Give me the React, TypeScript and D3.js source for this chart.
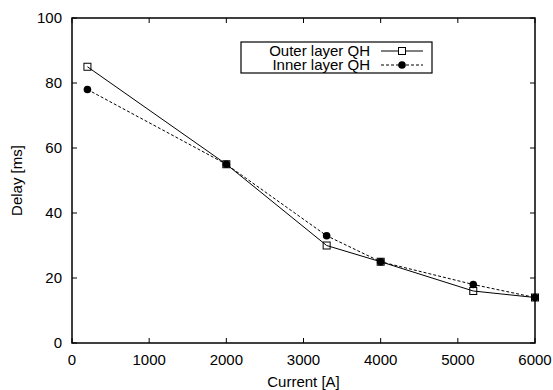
import React, { useEffect, useRef } from "react";
import * as d3 from "d3";

const currents = [200, 2000, 3300, 4000, 5200, 6000];
const outerDelay = [85, 55, 30, 25, 16, 14];
const innerDelay = [78, 55, 33, 25, 18, 14];
const xTicks = [0, 1000, 2000, 3000, 4000, 5000, 6000];
const yTicks = [0, 20, 40, 60, 80, 100];

function App() {
  const svgRef = useRef<SVGSVGElement>(null);
  const width = 553;
  const height = 390;

  useEffect(() => {
    const svg = d3.select(svgRef.current);
    svg.selectAll("*").remove();

    const margin = { top: 18, right: 18, bottom: 47, left: 72 };
    const font = "'Liberation Sans', Arial, sans-serif";

    const x = d3
      .scaleLinear()
      .domain([0, 6000])
      .range([margin.left, width - margin.right]);
    const y = d3
      .scaleLinear()
      .domain([0, 100])
      .range([height - margin.bottom, margin.top]);

    const x0 = x(0), x1 = x(6000), y0 = y(0), y1 = y(100);

    // tick marks on all four sides, pointing in
    const ticks = svg.append("g").attr("stroke", "#000").attr("stroke-width", 1);
    xTicks.forEach((t) => {
      ticks.append("line").attr("x1", x(t)).attr("x2", x(t)).attr("y1", y0).attr("y2", y0 - 5);
      ticks.append("line").attr("x1", x(t)).attr("x2", x(t)).attr("y1", y1).attr("y2", y1 + 5);
    });
    yTicks.forEach((t) => {
      ticks.append("line").attr("x1", x0).attr("x2", x0 + 5).attr("y1", y(t)).attr("y2", y(t));
      ticks.append("line").attr("x1", x1).attr("x2", x1 - 5).attr("y1", y(t)).attr("y2", y(t));
    });

    // frame
    svg
      .append("rect")
      .attr("x", x0)
      .attr("y", y1)
      .attr("width", x1 - x0)
      .attr("height", y0 - y1)
      .attr("fill", "none")
      .attr("stroke", "#000")
      .attr("stroke-width", 1.5);

    // tick labels
    svg
      .append("g")
      .selectAll("text")
      .data(xTicks)
      .enter()
      .append("text")
      .attr("x", (d) => x(d))
      .attr("y", y0 + 22)
      .attr("text-anchor", "middle")
      .style("font-family", font)
      .style("font-size", "15px")
      .text((d) => d);

    svg
      .append("g")
      .selectAll("text")
      .data(yTicks)
      .enter()
      .append("text")
      .attr("x", x0 - 10)
      .attr("y", (d) => y(d) + 5)
      .attr("text-anchor", "end")
      .style("font-family", font)
      .style("font-size", "15px")
      .text((d) => d);

    // axis titles
    svg
      .append("text")
      .attr("x", (x0 + x1) / 2)
      .attr("y", height - 3)
      .attr("text-anchor", "middle")
      .style("font-family", font)
      .style("font-size", "15px")
      .text("Current [A]");

    svg
      .append("text")
      .attr("transform", `translate(22, ${(y0 + y1) / 2}) rotate(-90)`)
      .attr("text-anchor", "middle")
      .style("font-family", font)
      .style("font-size", "15px")
      .text("Delay [ms]");

    const line = d3
      .line<number>()
      .x((d, i) => x(currents[i]))
      .y((d) => y(d));

    // inner layer (dashed, filled circles)
    svg
      .append("path")
      .datum(innerDelay)
      .attr("d", line)
      .attr("fill", "none")
      .attr("stroke", "#000")
      .attr("stroke-width", 1)
      .attr("stroke-dasharray", "3,2");

    // outer layer (solid, open squares)
    svg
      .append("path")
      .datum(outerDelay)
      .attr("d", line)
      .attr("fill", "none")
      .attr("stroke", "#000")
      .attr("stroke-width", 1);

    svg
      .append("g")
      .selectAll("circle")
      .data(innerDelay)
      .enter()
      .append("circle")
      .attr("cx", (d, i) => x(currents[i]))
      .attr("cy", (d) => y(d))
      .attr("r", 3.8)
      .attr("fill", "#000");

    svg
      .append("g")
      .selectAll("rect")
      .data(outerDelay)
      .enter()
      .append("rect")
      .attr("x", (d, i) => x(currents[i]) - 3.5)
      .attr("y", (d) => y(d) - 3.5)
      .attr("width", 7)
      .attr("height", 7)
      .attr("fill", "none")
      .attr("stroke", "#000")
      .attr("stroke-width", 1);

    // legend
    const lg = svg.append("g");
    lg.append("rect")
      .attr("x", 241)
      .attr("y", 42)
      .attr("width", 191)
      .attr("height", 31)
      .attr("fill", "#fff")
      .attr("stroke", "#000")
      .attr("stroke-width", 1.2);

    const rows = [
      { label: "Outer layer QH", dash: null, marker: "square", cy: 51 },
      { label: "Inner layer QH", dash: "3,2", marker: "circle", cy: 65 },
    ];
    rows.forEach((r) => {
      lg.append("text")
        .attr("x", 370)
        .attr("y", r.cy + 5)
        .attr("text-anchor", "end")
        .style("font-family", font)
        .style("font-size", "15px")
        .text(r.label);
      lg.append("line")
        .attr("x1", 381)
        .attr("x2", 423)
        .attr("y1", r.cy)
        .attr("y2", r.cy)
        .attr("stroke", "#000")
        .attr("stroke-width", 1)
        .attr("stroke-dasharray", r.dash);
      if (r.marker === "square") {
        lg.append("rect")
          .attr("x", 402 - 3.5)
          .attr("y", r.cy - 3.5)
          .attr("width", 7)
          .attr("height", 7)
          .attr("fill", "#fff")
          .attr("stroke", "#000");
      } else {
        lg.append("circle").attr("cx", 402).attr("cy", r.cy).attr("r", 3.8).attr("fill", "#000");
      }
    });
  }, []);

  return (
    <svg
      ref={svgRef}
      width={width}
      height={height}
      style={{ position: "absolute", left: 0, top: 0, background: "#fff" }}
    ></svg>
  );
}

export default App;
